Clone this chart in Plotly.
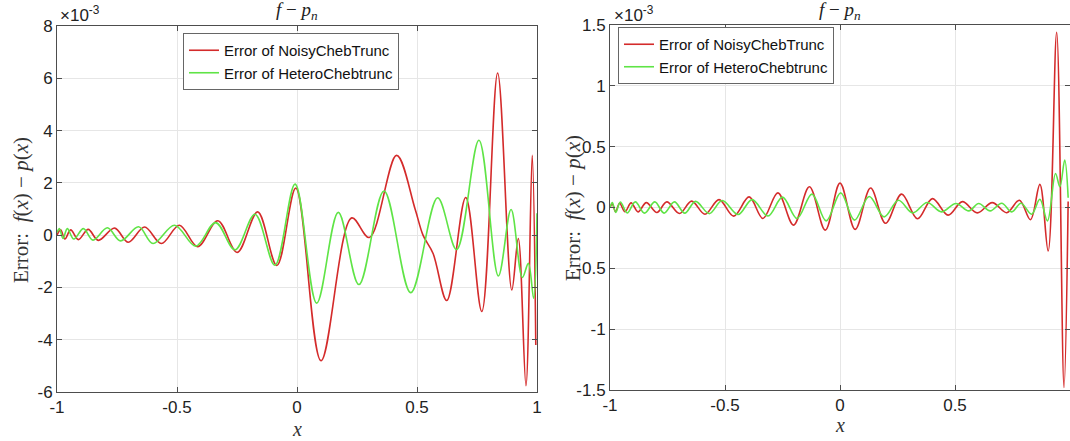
import plotly.graph_objects as go

# ---------------- data (values in units of 1e-3) ----------------
# Left panel
left_noisy_x = [-1.0, -0.985, -0.967, -0.943, -0.911, -0.87, -0.828, -0.76, -0.703, -0.635,
                -0.565, -0.49, -0.414, -0.33, -0.249, -0.164, -0.084, -0.005, 0.1, 0.228,
                0.301, 0.415, 0.492, 0.525, 0.567, 0.624, 0.703, 0.77, 0.836, 0.895,
                0.922, 0.954, 0.98, 0.995]
left_noisy_y = [0.0, 0.2, -0.15, 0.2, -0.17, 0.22, -0.2, 0.27, -0.27, 0.31,
                -0.32, 0.38, -0.44, 0.55, -0.66, 0.89, -1.16, 1.8, -4.8, 0.66,
                -0.09, 3.05, 1.0, 0.0, -0.7, -2.5, 1.44, -2.92, 6.2, -2.1,
                -0.13, -5.76, 3.05, -4.2]

left_hetero_x = [-1.0, -0.99, -0.975, -0.957, -0.93, -0.89, -0.85, -0.79, -0.735, -0.66,
                 -0.6, -0.51, -0.422, -0.339, -0.258, -0.175, -0.092, -0.008, 0.082, 0.172,
                 0.258, 0.3625, 0.474, 0.586, 0.665, 0.758, 0.839, 0.892, 0.939, 0.964,
                 0.986, 1.0]
left_hetero_y = [0.1, 0.25, -0.13, 0.25, -0.15, 0.25, -0.19, 0.28, -0.22, 0.32,
                 -0.32, 0.38, -0.42, 0.48, -0.56, 0.8, -1.15, 1.95, -2.6, 0.87,
                 -1.89, 1.69, -2.2, 1.43, -0.55, 3.63, -1.56, 0.98, -1.62, -1.08,
                 -2.42, 0.84]

# Right panel
right_noisy_x = [-1.0, -0.99, -0.976, -0.958, -0.935, -0.908, -0.878, -0.842, -0.796, -0.753,
                 -0.698, -0.645, -0.587, -0.526, -0.462, -0.395, -0.335, -0.27, -0.202, -0.133,
                 -0.064, 0.0, 0.066, 0.133, 0.198, 0.268, 0.337, 0.402, 0.47, 0.532,
                 0.597, 0.662, 0.725, 0.78, 0.828, 0.869, 0.905, 0.942, 0.974, 0.992]
right_noisy_y = [0.0, 0.03, -0.035, 0.035, -0.035, 0.038, -0.036, 0.04, -0.041, 0.046,
                 -0.049, 0.052, -0.055, 0.065, -0.071, 0.087, -0.09, 0.12, -0.145, 0.17,
                 -0.186, 0.2, -0.18, 0.16, -0.13, 0.11, -0.093, 0.073, -0.063, 0.048,
                 -0.044, 0.04, -0.043, 0.06, -0.1, 0.19, -0.357, 1.44, -1.48, 0.05]

right_hetero_x = [-1.0, -0.99, -0.975, -0.955, -0.925, -0.89, -0.85, -0.805, -0.765, -0.72,
                  -0.675, -0.628, -0.568, -0.512, -0.443, -0.382, -0.313, -0.25, -0.187, -0.122,
                  -0.06, 0.003, 0.063, 0.127, 0.192, 0.254, 0.316, 0.379, 0.441, 0.504,
                  0.56, 0.603, 0.653, 0.703, 0.747, 0.787, 0.833, 0.869, 0.902, 0.937,
                  0.956, 0.977, 0.992]
right_hetero_y = [0.0, 0.04, -0.04, 0.045, -0.045, 0.046, -0.046, 0.046, -0.046, 0.046,
                  -0.046, 0.05, -0.05, 0.057, -0.058, 0.065, -0.07, 0.085, -0.09, 0.11,
                  -0.11, 0.12, -0.104, 0.09, -0.077, 0.06, -0.045, 0.041, -0.036, 0.033,
                  -0.028, 0.033, -0.028, 0.035, -0.036, 0.035, -0.055, 0.068, -0.11, 0.28,
                  0.17, 0.39, 0.08]

series_names = ["Error of NoisyChebTrunc", "Error of HeteroChebtrunc"]
x_ticks = [-1, -0.5, 0, 0.5, 1]
x_ticktext = ["-1", "-0.5", "0", "0.5", "1"]
left_yticks = [-6, -4, -2, 0, 2, 4, 6, 8]
left_yticktext = ["-6", "-4", "-2", "0", "2", "4", "6", "8"]
right_yticks = [-1.5, -1, -0.5, 0, 0.5, 1, 1.5]
right_yticktext = ["-1.5", "-1", "-0.5", "0", "0.5", "1", "1.5"]

RED = "#d42b2b"
GREEN = "#5fe446"
W, H = 1070, 441
SANS = "Liberation Sans, Arial, sans-serif"
SERIF = "Liberation Serif, Times New Roman, serif"

fig = go.Figure()
line_kw = dict(shape="spline", smoothing=1.0, width=1.6)
fig.add_trace(go.Scatter(x=left_noisy_x, y=left_noisy_y, mode="lines", name=series_names[0],
                         line=dict(color=RED, **line_kw), xaxis="x", yaxis="y", legend="legend"))
fig.add_trace(go.Scatter(x=left_hetero_x, y=left_hetero_y, mode="lines", name=series_names[1],
                         line=dict(color=GREEN, **line_kw), xaxis="x", yaxis="y", legend="legend"))
fig.add_trace(go.Scatter(x=right_noisy_x, y=right_noisy_y, mode="lines", name=series_names[0],
                         line=dict(color=RED, **line_kw), xaxis="x2", yaxis="y2", legend="legend2"))
fig.add_trace(go.Scatter(x=right_hetero_x, y=right_hetero_y, mode="lines", name=series_names[1],
                         line=dict(color=GREEN, **line_kw), xaxis="x2", yaxis="y2", legend="legend2"))

axis_common = dict(showline=True, linecolor="#4d4d4d", linewidth=1, mirror="ticks",
                   ticks="inside", ticklen=5, tickcolor="#4d4d4d", automargin=False,
                   showgrid=True, gridcolor="#e6e6e6", gridwidth=1, zeroline=False,
                   tickfont=dict(family=SANS, size=17, color="#222"))

fig.update_layout(
    width=W, height=H, margin=dict(l=0, r=0, t=0, b=0, autoexpand=False),
    paper_bgcolor="white", plot_bgcolor="white", showlegend=True,
    xaxis=dict(domain=[57 / W, 537 / W], range=[-1, 1], anchor="y",
               tickvals=x_ticks, ticktext=x_ticktext, **axis_common),
    yaxis=dict(domain=[1 - 392 / H, 1 - 26 / H], range=[-6, 8], anchor="x",
               tickvals=left_yticks, ticktext=left_yticktext, **axis_common),
    xaxis2=dict(domain=[610 / W, 1.0], range=[-1, 1], anchor="y2",
                tickvals=x_ticks, ticktext=x_ticktext, **axis_common),
    yaxis2=dict(domain=[1 - 390 / H, 1 - 25 / H], range=[-1.5, 1.5], anchor="x2",
                tickvals=right_yticks, ticktext=right_yticktext, **axis_common),
    legend=dict(x=183 / W, y=1 - 33 / H, xanchor="left", yanchor="top",
                bgcolor="white", bordercolor="#666", borderwidth=1,
                font=dict(family=SANS, size=15, color="#111"), tracegroupgap=0),
    legend2=dict(x=618 / W, y=1 - 27 / H, xanchor="left", yanchor="top",
                 bgcolor="white", bordercolor="#666", borderwidth=1,
                 font=dict(family=SANS, size=15, color="#111"), tracegroupgap=0),
)

title_txt = "<i>f</i> − <i>p<sub>n</sub></i>"
ylab_txt = "Error:  <i>f</i>(<i>x</i>) − <i>p</i>(<i>x</i>)"
ann = []
for cx, cy in [(297, 11), (840, 11)]:
    ann.append(dict(text=title_txt, x=cx / W, y=1 - cy / H, xref="paper", yref="paper",
                    showarrow=False, xanchor="center", yanchor="middle",
                    font=dict(family=SERIF, size=19, color="#222")))
for cx, cy in [(297, 429), (840, 425)]:
    ann.append(dict(text="<i>x</i>", x=cx / W, y=1 - cy / H, xref="paper", yref="paper",
                    showarrow=False, xanchor="center", yanchor="middle",
                    font=dict(family=SERIF, size=20, color="#333")))
for cx, cy in [(21, 210), (573, 208)]:
    ann.append(dict(text=ylab_txt, x=cx / W, y=1 - cy / H, xref="paper", yref="paper",
                    showarrow=False, xanchor="center", yanchor="middle", textangle=-90,
                    font=dict(family=SERIF, size=21, color="#333")))
for cx in [58, 612]:
    ann.append(dict(text="×10<sup>-3</sup>", x=cx / W, y=1 - 1 / H, xref="paper", yref="paper",
                    showarrow=False, xanchor="left", yanchor="top",
                    font=dict(family=SANS, size=17, color="#222")))
fig.update_layout(annotations=ann)

fig.write_html("out.html", config={"displayModeBar": False},
               post_script="document.body.style.margin='0';document.body.style.overflow='hidden';")
